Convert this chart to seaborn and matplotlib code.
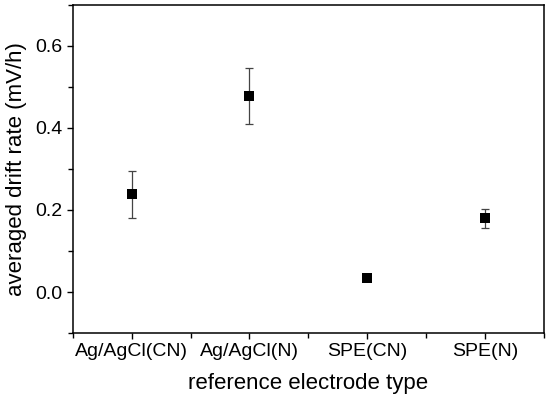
import numpy as np
import pandas as pd
import matplotlib
matplotlib.use("Agg")
import matplotlib.pyplot as plt
import seaborn as sns
from matplotlib.ticker import MultipleLocator

electrodes = ["Ag/AgCl(CN)", "Ag/AgCl(N)", "SPE(CN)", "SPE(N)"]
drift_rate = [0.238, 0.478, 0.035, 0.180]
drift_err = [0.057, 0.068, 0.005, 0.023]

df = pd.DataFrame({"electrode": electrodes, "drift": drift_rate, "err": drift_err})
df["pos"] = np.arange(len(df))

sns.set_style("ticks", {"text.color": "black", "axes.labelcolor": "black",
                        "xtick.color": "black", "ytick.color": "black",
                        "axes.edgecolor": "black"})
plt.rcParams["font.family"] = ["Liberation Sans", "DejaVu Sans"]

fig = plt.figure(figsize=(5.5, 4.07), dpi=100)
ax = fig.add_axes([0.1327, 0.1818, 0.8558, 0.806])

ax.errorbar(df["pos"], df["drift"], yerr=df["err"], fmt="none",
            ecolor="#444444", elinewidth=0.9, capsize=3, capthick=0.9, zorder=2)
sns.scatterplot(data=df, x="pos", y="drift", marker="s", s=42, color="black",
                edgecolor="black", linewidth=0, ax=ax, zorder=3)

ax.set_xlim(-0.5, 3.5)
ax.set_ylim(-0.1, 0.7)
ax.set_xticks(df["pos"])
ax.set_xticklabels(electrodes)
ax.xaxis.set_minor_locator(MultipleLocator(1, offset=0.5))
ax.yaxis.set_minor_locator(MultipleLocator(0.1))
ax.set_yticks([0.0, 0.2, 0.4, 0.6])

ax.tick_params(axis="both", which="major", direction="out", length=4.5, width=1,
               labelsize=14, color="black", labelcolor="black", pad=3)
ax.tick_params(axis="both", which="minor", direction="out", length=3.5, width=1, color="black")
for s in ax.spines.values():
    s.set_visible(True)
    s.set_linewidth(1.1)
    s.set_color("black")

ax.set_xlabel("reference electrode type", fontsize=16, labelpad=9, color="black")
ax.set_ylabel("averaged drift rate (mV/h)", fontsize=16, labelpad=6, color="black")

fig.savefig("out.png", dpi=100)
